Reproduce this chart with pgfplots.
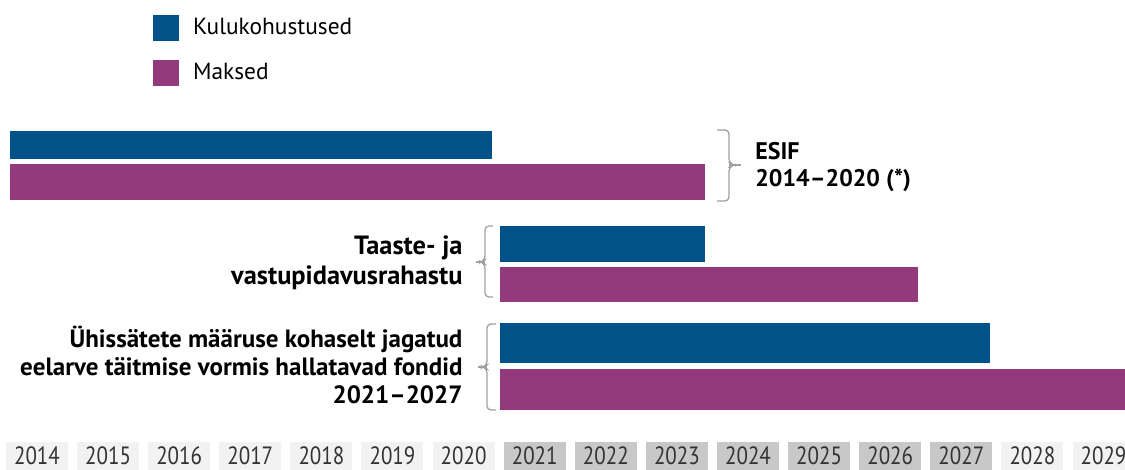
\documentclass[border=0pt]{standalone}
\usepackage{fontspec}
\setmainfont{PT Sans}
\usepackage{graphicx}
\usepackage{pgfplots}
\pgfplotsset{compat=1.18}
\definecolor{kblue}{HTML}{005289}
\definecolor{kpurple}{HTML}{933A7D}
\definecolor{boxlight}{HTML}{F2F2F2}
\definecolor{boxdark}{HTML}{C8C8C8}
\definecolor{bracegray}{HTML}{A0A0A0}
\definecolor{yeartext}{HTML}{333333}
\begin{document}
\begin{tikzpicture}
\begin{axis}[
  scale only axis,
  width=562.5pt, height=235pt,
  xmin=2013.48, xmax=2029.302,
  ymin=0, ymax=470,
  axis lines=none,
  xtick=\empty, ytick=\empty,
  clip=false,
  legend style={at={(axis description cs:0.136,0.968)}, anchor=north west,
    draw=none, fill=none, inner sep=0pt, outer sep=0pt,
    row sep=9.5pt, column sep=7pt,
    nodes={inner sep=0pt, anchor=west},
    font=\fontsize{11.7}{14}\selectfont},
  legend cell align=left,
  legend image code/.code={\fill[#1] (0pt,-6.5pt) rectangle (13pt,6.5pt);},
]
% year boxes
\pgfplotsinvokeforeach{2014,2015,2016,2017,2018,2019,2020,2028,2029}{
  \node[fill=boxlight, minimum width=31pt, minimum height=14pt, inner sep=0pt] at (axis cs:#1,14) {};
  \node[anchor=base, inner sep=0pt, text=yeartext, font=\fontsize{12.5}{13}\selectfont] at (axis cs:#1,5) {\scalebox{0.84}[1]{#1}};
}
\pgfplotsinvokeforeach{2021,2022,2023,2024,2025,2026,2027}{
  \node[fill=boxdark, minimum width=31pt, minimum height=14pt, inner sep=0pt] at (axis cs:#1,14) {};
  \node[anchor=base, inner sep=0pt, text=yeartext, font=\fontsize{12.5}{13}\selectfont] at (axis cs:#1,5) {\scalebox{0.84}[1]{#1}};
}
% ESIF 2014-2020
\addplot[fill=kblue, draw=none] coordinates {(2013.62,311) (2020.399,311) (2020.399,339) (2013.62,339)} -- cycle;
\addlegendentry{Kulukohustused}
\addplot[fill=kpurple, draw=none] coordinates {(2013.62,270) (2023.395,270) (2023.395,306) (2013.62,306)} -- cycle;
\addlegendentry{Maksed}
% RRF
\addplot[fill=kblue, draw=none, forget plot] coordinates {(2020.512,208) (2023.395,208) (2023.395,244) (2020.512,244)} -- cycle;
\addplot[fill=kpurple, draw=none, forget plot] coordinates {(2020.512,168) (2026.391,168) (2026.391,203) (2020.512,203)} -- cycle;
% CPR 2021-2027
\addplot[fill=kblue, draw=none, forget plot] coordinates {(2020.512,107) (2027.404,107) (2027.404,147) (2020.512,147)} -- cycle;
\addplot[fill=kpurple, draw=none, forget plot] coordinates {(2020.512,60) (2029.302,60) (2029.302,101) (2020.512,101)} -- cycle;
% braces
\draw[bracegray, line width=0.65pt, rounded corners=2pt]
  (axis cs:2023.564,340) -- (axis cs:2023.733,340) -- (axis cs:2023.733,307) -- (axis cs:2023.8,305) -- (axis cs:2023.733,303) -- (axis cs:2023.733,269) -- (axis cs:2023.564,269);
\draw[bracegray, line width=0.65pt] (axis cs:2023.733,305) -- (axis cs:2023.902,305);
\draw[bracegray, line width=0.65pt, rounded corners=2pt]
  (axis cs:2020.413,244) -- (axis cs:2020.301,244) -- (axis cs:2020.301,210) -- (axis cs:2020.25,208) -- (axis cs:2020.301,206) -- (axis cs:2020.301,173) -- (axis cs:2020.413,173);
\draw[bracegray, line width=0.65pt] (axis cs:2020.301,208) -- (axis cs:2020.174,208);
\draw[bracegray, line width=0.65pt, rounded corners=2pt]
  (axis cs:2020.456,146) -- (axis cs:2020.329,146) -- (axis cs:2020.329,105) -- (axis cs:2020.28,103) -- (axis cs:2020.329,101) -- (axis cs:2020.329,60) -- (axis cs:2020.456,60);
\draw[bracegray, line width=0.65pt] (axis cs:2020.329,103) -- (axis cs:2020.203,103);
% labels
\node[anchor=west, align=left, inner sep=0pt, font=\bfseries\fontsize{12}{13.5}\selectfont] at (axis cs:2024.098,303) {ESIF\\2014–2020 (*)};
\node[anchor=east, align=right, inner sep=0pt, font=\bfseries\fontsize{13.2}{15}\selectfont] at (axis cs:2019.99,207) {Taaste- ja\\vastupidavusrahastu};
\node[anchor=east, align=right, inner sep=0pt, font=\bfseries\fontsize{12.5}{14}\selectfont] at (axis cs:2019.99,105) {Ühissätete määruse kohaselt jagatud\\eelarve täitmise vormis hallatavad fondid\\2021–2027};
\end{axis}
\pgfresetboundingbox
\path[use as bounding box] (current axis.south west) rectangle (current axis.north east);
\end{tikzpicture}
\end{document}
